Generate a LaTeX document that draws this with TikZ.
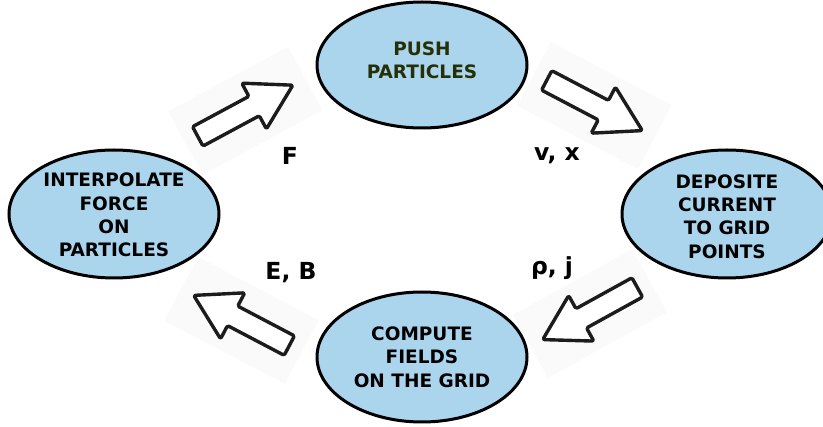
\documentclass[tikz,border=0pt]{standalone}
\usepackage{fontspec}
\setmainfont{DejaVu Sans}
\usetikzlibrary{shapes.geometric}
\definecolor{cellblue}{RGB}{171,213,237}
\definecolor{pushtext}{RGB}{38,48,8}
\definecolor{arrowline}{RGB}{28,28,28}
\begin{document}
\begin{tikzpicture}[x=1pt,y=-1pt,
  cell/.style={ellipse, draw=black, line width=3pt, fill=cellblue,
    minimum width=210pt, minimum height=128pt, inner sep=0pt},
  celltext/.style={align=center, font={\fontsize{18.5}{23.3}\selectfont\bfseries}, inner sep=0pt},
  flowlabel/.style={anchor=base, font={\fontsize{23.5}{27}\selectfont\bfseries}, inner sep=0pt},
  blockarrow/.pic={
    \fill[black!2] (-68,-36) rectangle (68,36);
    \draw[line width=3.4pt, arrowline, rounded corners=1.5pt, fill=white, line join=round]
      (-54,-11) -- (10,-11) -- (10,-26) -- (54,0) -- (10,26) -- (10,11) -- (-54,11) -- cycle;
  }]
\useasboundingbox (0,0) rectangle (823,427);
\fill[white] (0,0) rectangle (823,427);

% block arrows
\pic[rotate=28.3] (arrF) at (245.3,110.8) {blockarrow};
\pic[rotate=-27.7] (arrV) at (594.5,105.5) {blockarrow};
\pic[rotate=208.9] (arrR) at (590,313.5) {blockarrow};
\pic[rotate=152.3] (arrE) at (241.5,320.5) {blockarrow};

% cells
\node[cell, minimum height=126pt] (push) at (422,65) {};
\node[cell] (interp) at (114,214) {};
\node[cell] (depo) at (727,214) {};
\node[cell, minimum height=130pt] (comp) at (422,357) {};

\node[celltext, text=pushtext] (pushT) at ([yshift=5pt]push.center) {PUSH\\PARTICLES};
\node[celltext] (interpT) at ([yshift=-1pt]interp.center) {INTERPOLATE\\FORCE\\ON\\PARTICLES};
\node[celltext] (depoT) at ([yshift=-2.5pt]depo.center) {DEPOSITE\\CURRENT\\TO GRID\\POINTS};
\node[celltext] (compT) at ([yshift=0pt]comp.center) {COMPUTE\\FIELDS\\ON THE GRID};

% labels
\node[flowlabel] (lF) at (290,165) {F};
\node[flowlabel] (lV) at (557,161) {v, x};
\node[flowlabel] (lE) at (291,280) {E, B};
\node[flowlabel] (lR) at (552,275) {ρ, j};
\end{tikzpicture}
\end{document}
